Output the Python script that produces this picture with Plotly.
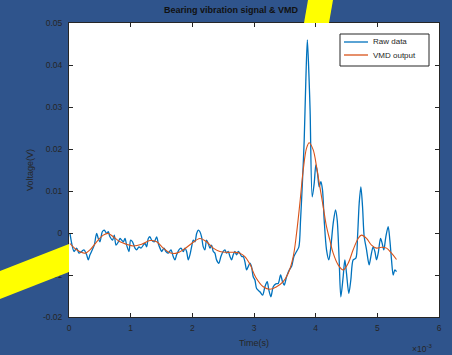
import plotly.graph_objects as go

# time axis in units of 1e-3 s (the chart shows a x10^-3 multiplier)
raw_t = [
    0.016, 0.044, 0.081, 0.124, 0.162, 0.205, 0.243, 0.286, 0.313, 0.340,
    0.378, 0.410, 0.448, 0.475, 0.502, 0.540, 0.572, 0.610, 0.637, 0.664,
    0.707, 0.734, 0.762, 0.800, 0.827, 0.854, 0.881, 0.908, 0.935, 0.972,
    1.000, 1.030, 1.070, 1.097, 1.135, 1.167, 1.205, 1.232, 1.259, 1.286,
    1.313, 1.340, 1.383, 1.421, 1.448, 1.475, 1.502, 1.540, 1.572, 1.610,
    1.653, 1.690, 1.718, 1.745, 1.783, 1.815, 1.853, 1.880, 1.907, 1.934,
    1.961, 1.988, 2.015, 2.042, 2.070, 2.096, 2.123, 2.150, 2.177, 2.204,
    2.230, 2.258, 2.285, 2.312, 2.340, 2.366, 2.393, 2.430, 2.463, 2.500,
    2.528, 2.555, 2.582, 2.610, 2.636, 2.663, 2.690, 2.718, 2.745, 2.771,
    2.800, 2.825, 2.852, 2.880, 2.906, 2.933, 2.960, 2.987, 3.015, 3.042,
    3.096, 3.139, 3.177, 3.214, 3.241, 3.274, 3.312, 3.355, 3.393, 3.431,
    3.463, 3.490, 3.528, 3.571, 3.609, 3.647, 3.690, 3.728, 3.755, 3.787,
    3.814, 3.840, 3.865, 3.890, 3.910, 3.944, 3.976, 4.003, 4.030, 4.057,
    4.084, 4.111, 4.138, 4.176, 4.214, 4.246, 4.284, 4.322, 4.349, 4.381,
    4.408, 4.446, 4.473, 4.500, 4.538, 4.570, 4.608, 4.652, 4.679, 4.706,
    4.733, 4.760, 4.787, 4.825, 4.867, 4.895, 4.932, 4.960, 4.987, 5.014,
    5.052, 5.079, 5.105, 5.138, 5.176, 5.203, 5.230, 5.257, 5.284, 5.311,
]
raw_v = [
    -0.0001, -0.0025, -0.0044, -0.0036, -0.0048, -0.0044, -0.0040, -0.0052, -0.0064, -0.0052,
    -0.0040, -0.0029, -0.0001, -0.0013, -0.0021, 0.0003, 0.0007, -0.0001, 0.0003, -0.0009,
    -0.0017, -0.0005, -0.0029, -0.0021, -0.0013, -0.0017, -0.0021, -0.0013, -0.0029, -0.0044,
    -0.0017, -0.0021, -0.0036, -0.0040, -0.0033, -0.0036, -0.0029, -0.0025, -0.0033, -0.0013,
    -0.0009, -0.0017, -0.0021, -0.0009, -0.0025, -0.0036, -0.0044, -0.0036, -0.0044, -0.0048,
    -0.0040, -0.0056, -0.0064, -0.0052, -0.0040, -0.0036, -0.0044, -0.0036, -0.0044, -0.0064,
    -0.0052, -0.0033, -0.0017, -0.0021, -0.0001, 0.0007, 0.0003, -0.0009, -0.0033, -0.0040,
    -0.0017, -0.0025, -0.0036, -0.0029, -0.0044, -0.0048, -0.0064, -0.0072, -0.0056, -0.0044,
    -0.0040, -0.0048, -0.0044, -0.0056, -0.0064, -0.0052, -0.0044, -0.0052, -0.0044, -0.0048,
    -0.0056, -0.0056, -0.0068, -0.0088, -0.0080, -0.0072, -0.0080, -0.0104, -0.0112, -0.0132,
    -0.0140, -0.0148, -0.0128, -0.0116, -0.0136, -0.0152, -0.0128, -0.0121, -0.0120, -0.0100,
    -0.0116, -0.0124, -0.0104, -0.0088, -0.0080, -0.0056, -0.0044, -0.0033, 0.0031, 0.0126,
    0.0221, 0.0360, 0.0460, 0.0380, 0.0290, 0.0086, 0.0118, 0.0162, 0.0142, 0.0110,
    0.0122, 0.0102, 0.0031, -0.0040, -0.0064, -0.0033, 0.0023, 0.0055, 0.0031, -0.0064,
    -0.0152, -0.0104, -0.0064, -0.0096, -0.0144, -0.0112, -0.0064, -0.0060, -0.0009, 0.0071,
    0.0110, 0.0063, -0.0009, -0.0040, -0.0076, -0.0056, -0.0033, -0.0044, -0.0064, -0.0048,
    -0.0013, -0.0025, -0.0040, -0.0009, 0.0015, -0.0017, -0.0064, -0.0100, -0.0088, -0.0092,
]

vmd_t = [
    0.016, 0.124, 0.259, 0.340, 0.448, 0.556, 0.637, 0.718, 0.827, 0.935,
    1.043, 1.178, 1.313, 1.421, 1.529, 1.637, 1.745, 1.853, 1.988, 2.123,
    2.230, 2.340, 2.447, 2.555, 2.663, 2.771, 2.852, 2.933, 3.030, 3.150,
    3.258, 3.366, 3.474, 3.555, 3.636, 3.690, 3.744, 3.798, 3.852, 3.895,
    3.960, 4.014, 4.068, 4.122, 4.176, 4.230, 4.284, 4.365, 4.446, 4.527,
    4.608, 4.689, 4.743, 4.825, 4.906, 4.987, 5.068, 5.149, 5.230, 5.311,
]
vmd_v = [
    -0.0025, -0.0040, -0.0048, -0.0040, -0.0021, -0.0005, -0.0001, -0.0009, -0.0021, -0.0027,
    -0.0031, -0.0027, -0.0018, -0.0021, -0.0036, -0.0047, -0.0048, -0.0040, -0.0025, -0.0013,
    -0.0021, -0.0036, -0.0044, -0.0046, -0.0046, -0.0048, -0.0056, -0.0074, -0.0106, -0.0128,
    -0.0134, -0.0128, -0.0116, -0.0096, -0.0056, -0.0001, 0.0071, 0.0150, 0.0202, 0.0215,
    0.0198, 0.0158, 0.0110, 0.0063, 0.0015, -0.0017, -0.0048, -0.0076, -0.0088, -0.0072,
    -0.0040, -0.0013, -0.0005, -0.0013, -0.0029, -0.0036, -0.0034, -0.0036, -0.0048, -0.0063,
]

series_names = ["Raw data", "VMD output"]
series_colors = ["#0072BD", "#D95319"]

x_ticks = [0, 1, 2, 3, 4, 5, 6]
y_ticks = [0.05, 0.04, 0.03, 0.02, 0.01, 0, -0.01, -0.02]
y_ticktext = ["0.05", "0.04", "0.03", "0.02", "0.01", "0", "-0.01", "-0.02"]

BG = "#2F548C"
INK = "#262626"
FONT = "Liberation Sans, Arial, sans-serif"

fig = go.Figure()
fig.add_trace(go.Scatter(x=raw_t, y=raw_v, mode="lines", name=series_names[0],
                         line=dict(color=series_colors[0], width=1.3, shape="spline", smoothing=0.8)))
fig.add_trace(go.Scatter(x=vmd_t, y=vmd_v, mode="lines", name=series_names[1],
                         line=dict(color=series_colors[1], width=1.1, shape="spline", smoothing=1.0)))

axis_common = dict(
    showline=True, linecolor=INK, linewidth=1, mirror="ticks", automargin=False,
    ticks="inside", ticklen=4, tickcolor=INK, showgrid=False, zeroline=False,
    tickfont=dict(family=FONT, size=8.5, color=INK),
)
fig.update_xaxes(range=[0, 6], tickvals=x_ticks, ticklabelstandoff=3, **axis_common,
                 title=dict(text="Time(s)", font=dict(family=FONT, size=9, color=INK), standoff=7))
fig.update_yaxes(range=[-0.02, 0.05], tickvals=y_ticks, ticktext=y_ticktext,
                 ticklabelstandoff=4, **axis_common,
                 title=dict(text="Voltage(V)", font=dict(family=FONT, size=9, color=INK), standoff=7))


def px(x):
    return (x - 69) / 370


def py(y):
    return (317 - y) / 294


shapes = [
    dict(type="path", xref="paper", yref="paper", layer="above",
         path=f"M {px(308)} {py(0)} L {px(333)} {py(0)} L {px(329)} {py(23)} L {px(304)} {py(23)} Z",
         fillcolor="#FFFF00", line=dict(width=0)),
    dict(type="path", xref="paper", yref="paper", layer="above",
         path=f"M {px(0)} {py(271)} L {px(69)} {py(244)} L {px(69)} {py(272)} L {px(0)} {py(299)} Z",
         fillcolor="#FFFF00", line=dict(width=0)),
    # legend box (MATLAB-style compact legend)
    dict(type="rect", xref="paper", yref="paper", layer="above",
         x0=px(340), x1=px(429), y0=py(66), y1=py(34),
         fillcolor="white", line=dict(color=INK, width=1)),
]
annotations = [
    dict(text="×10<sup>-3</sup>", xref="paper", yref="paper", x=px(410), y=py(348),
         xanchor="left", yanchor="middle", showarrow=False,
         font=dict(family=FONT, size=8.5, color=INK)),
]
for i, (name, color) in enumerate(zip(series_names, series_colors)):
    ly = 42 + 13 * i
    shapes.append(dict(type="line", xref="paper", yref="paper", layer="above",
                       x0=px(344), x1=px(368), y0=py(ly), y1=py(ly),
                       line=dict(color=color, width=1.3)))
    annotations.append(dict(text=name, xref="paper", yref="paper", x=px(371), y=py(ly),
                            xanchor="left", yanchor="middle", showarrow=False,
                            font=dict(family=FONT, size=8, color=INK)))

fig.update_layout(
    width=452, height=355, autosize=False,
    margin=dict(l=69, r=13, t=23, b=38),
    paper_bgcolor=BG, plot_bgcolor="white",
    font=dict(family=FONT, color=INK),
    title=dict(text="<b>Bearing vibration signal & VMD</b>", x=231 / 452, xanchor="center",
               y=1 - 10 / 355, yanchor="middle", font=dict(family=FONT, size=9, color="#111111")),
    showlegend=False,
    shapes=shapes,
    annotations=annotations,
)

# the page body has a default 8px margin; drop it so the figure fills the window
fig.write_html("out.html", config={"displayModeBar": False},
               post_script="document.body.style.margin='0';")
